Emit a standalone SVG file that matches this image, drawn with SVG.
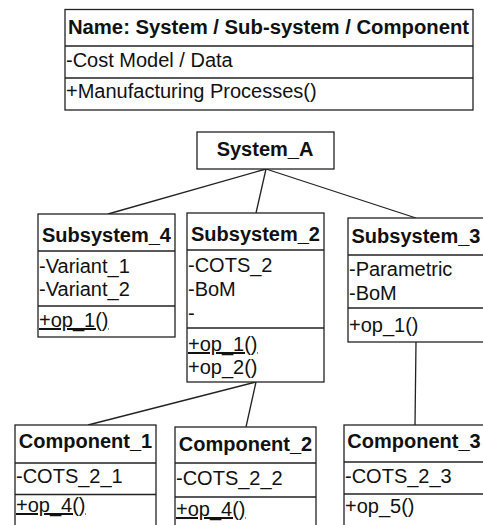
<svg xmlns="http://www.w3.org/2000/svg" width="483" height="525" viewBox="0 0 483 525">
<style>
rect.box{fill:#fff;stroke:#222;stroke-width:1.3}
line.sep{stroke:#222;stroke-width:1.3}
.conn line{stroke:#222;stroke-width:1.3}
text{font-family:"Liberation Sans",Arial,sans-serif;font-size:20px;fill:#111}
text.h{font-weight:bold;text-anchor:middle}
text.u{text-decoration:underline}
</style>
<rect width="483" height="525" fill="#fff"/>
<g id="legend">
<rect class="box" x="65" y="9.5" width="408" height="100.5"/>
<line class="sep" x1="65" y1="46" x2="473" y2="46"/>
<line class="sep" x1="65" y1="78" x2="473" y2="78"/>
<text class="h" x="268.5" y="34" style="font-size:20.3px">Name: System / Sub-system / Component</text>
<text x="66" y="67">-Cost Model / Data</text>
<text x="66" y="98">+Manufacturing Processes()</text>
</g>
<g class="conn" id="connectors">
<line x1="266" y1="169" x2="108" y2="214"/>
<line x1="266" y1="169" x2="256" y2="213"/>
<line x1="266" y1="169" x2="416" y2="218"/>
<line x1="256" y1="382" x2="88" y2="425"/>
<line x1="256" y1="382" x2="246" y2="427"/>
<line x1="416" y1="342" x2="415" y2="425"/>
</g>
<g id="system_a">
<rect class="box" x="197" y="132" width="137" height="37"/>
<text class="h" x="265" y="156">System_A</text>
</g>
<g id="subsystem_4">
<rect class="box" x="38" y="214" width="137" height="123"/>
<line class="sep" x1="38" y1="251" x2="175" y2="251"/>
<line class="sep" x1="38" y1="306" x2="175" y2="306"/>
<text class="h" x="106.5" y="242">Subsystem_4</text>
<text x="39" y="273">-Variant_1</text>
<text x="39" y="296">-Variant_2</text>
<text class="u" x="39" y="327">+op_1()</text>
</g>
<g id="subsystem_2">
<rect class="box" x="187" y="213" width="137" height="169"/>
<line class="sep" x1="187" y1="250" x2="324" y2="250"/>
<line class="sep" x1="187" y1="328" x2="324" y2="328"/>
<text class="h" x="255.5" y="241">Subsystem_2</text>
<text x="188" y="272">-COTS_2</text>
<text x="188" y="296">-BoM</text>
<text x="188" y="320">-</text>
<text class="u" x="188" y="351">+op_1()</text>
<text x="188" y="374">+op_2()</text>
</g>
<g id="subsystem_3">
<rect class="box" x="348" y="218" width="136" height="124"/>
<line class="sep" x1="348" y1="255" x2="484" y2="255"/>
<line class="sep" x1="348" y1="308" x2="484" y2="308"/>
<text class="h" x="416" y="243">Subsystem_3</text>
<text x="349" y="276">-Parametric</text>
<text x="349" y="300">-BoM</text>
<text x="349" y="332">+op_1()</text>
</g>
<g id="component_1">
<rect class="box" x="15" y="425" width="141" height="110"/>
<line class="sep" x1="15" y1="463" x2="156" y2="463"/>
<line class="sep" x1="15" y1="494.5" x2="156" y2="494.5"/>
<text class="h" x="85.5" y="448">Component_1</text>
<text x="16" y="483">-COTS_2_1</text>
<text class="u" x="16" y="512">+op_4()</text>
</g>
<g id="component_2">
<rect class="box" x="175" y="427" width="141" height="110"/>
<line class="sep" x1="175" y1="463" x2="316" y2="463"/>
<line class="sep" x1="175" y1="497" x2="316" y2="497"/>
<text class="h" x="245.5" y="451">Component_2</text>
<text x="176" y="485">-COTS_2_2</text>
<text class="u" x="176" y="516">+op_4()</text>
</g>
<g id="component_3">
<rect class="box" x="344" y="425" width="142" height="110"/>
<line class="sep" x1="344" y1="462" x2="486" y2="462"/>
<line class="sep" x1="344" y1="494" x2="486" y2="494"/>
<text class="h" x="414" y="448">Component_3</text>
<text x="345" y="483">-COTS_2_3</text>
<text x="345" y="513">+op_5()</text>
</g>
</svg>
